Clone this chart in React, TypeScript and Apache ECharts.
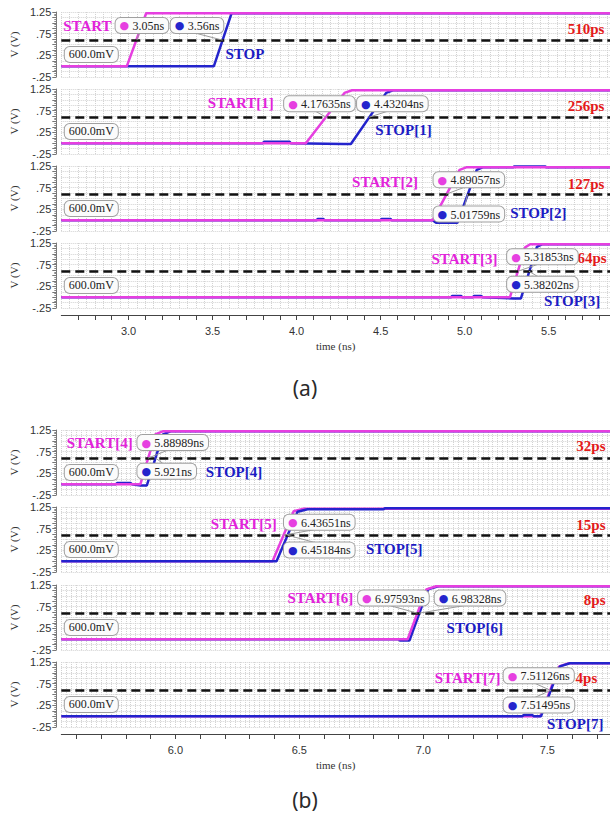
import React, { useEffect, useRef } from 'react';
import * as echarts from 'echarts';

// ---------------- data ----------------
const xTicksA = [3.0, 3.5, 4.0, 4.5, 5.0, 5.5];
const xTicksB = [6.0, 6.5, 7.0, 7.5];
const xMinorTicksA = [2.7, 2.8, 2.9, 3.0, 3.1, 3.2, 3.3, 3.4, 3.5, 3.6, 3.7, 3.8, 3.9, 4.0, 4.1, 4.2, 4.3, 4.4, 4.5, 4.6, 4.7, 4.8, 4.9, 5.0, 5.1, 5.2, 5.3, 5.4, 5.5, 5.6, 5.7, 5.8];
const xMinorTicksB = [5.6, 5.7, 5.8, 5.9, 6.0, 6.1, 6.2, 6.3, 6.4, 6.5, 6.6, 6.7, 6.8, 6.9, 7.0, 7.1, 7.2, 7.3, 7.4, 7.5, 7.6, 7.7];
const yTickLabels = [-0.25, 0.25, 0.75, 1.25];
const thresholdV = 0.6;
const thresholdText = '600.0mV';

// waveforms: [time (ns), voltage (V)]
const startA0 = [[2.6, 0], [2.99, 0], [3.105, 1.22], [5.865, 1.22]];
const stopA0 = [[2.6, 0], [3.508, 0], [3.613, 1.22], [5.865, 1.22]];
const startA1 = [[2.6, 0], [4.055, 0], [4.285, 1.16], [4.33, 1.22], [5.865, 1.22]];
const stopA1 = [[2.6, 0], [3.8, 0], [3.805, 0.03], [3.96, 0.03], [3.965, 0], [4.28, -0.02], [4.323, -0.02], [4.533, 1.16], [4.573, 1.22], [5.865, 1.22]];
const startA2 = [[2.6, 0], [4.81, 0], [4.97, 1.16], [5.01, 1.22], [5.865, 1.22]];
const stopA2 = [[2.6, 0], [4.12, 0], [4.125, 0.025], [4.16, 0.025], [4.165, 0], [4.5, 0], [4.505, 0.025], [4.56, 0.025], [4.565, 0], [4.81, 0], [4.83, -0.06], [4.957, -0.06], [5.072, 1.16], [5.107, 1.22], [5.29, 1.22], [5.295, 1.24], [5.48, 1.24], [5.485, 1.22], [5.865, 1.22]];
const startA3 = [[2.6, 0], [5.27, 0], [5.36, 1.15], [5.39, 1.22], [5.865, 1.22]];
const stopA3 = [[2.6, 0], [4.92, 0], [4.925, 0.025], [4.98, 0.025], [4.985, 0], [5.05, 0], [5.055, 0.025], [5.1, 0.025], [5.105, 0], [5.29, -0.03], [5.335, -0.03], [5.43, 1.16], [5.46, 1.22], [5.865, 1.22]];
const startB0 = [[5.54, 0], [5.859, 0], [5.919, 1.15], [5.949, 1.22], [7.753, 1.22]];
const stopB0 = [[5.54, 0], [5.76, 0], [5.765, 0.025], [5.82, 0.025], [5.825, 0], [5.86, -0.03], [5.885, -0.03], [5.95, 1.15], [5.98, 1.22], [7.753, 1.22]];
const startB1 = [[5.54, 0], [6.392, 0], [6.477, 1.15], [6.517, 1.21], [7.753, 1.21]];
const stopB1 = [[5.54, 0], [6.408, 0], [6.493, 1.14], [6.533, 1.2], [6.84, 1.2], [6.845, 1.22], [7.753, 1.22]];
const startB2 = [[5.54, 0], [6.937, 0], [7.012, 1.15], [7.052, 1.22], [7.753, 1.22]];
const stopB2 = [[5.54, 0], [6.9, 0], [6.905, -0.03], [6.944, -0.03], [7.019, 1.15], [7.06, 1.22], [7.753, 1.22]];
const startB3 = [[5.54, 0], [7.472, 0], [7.548, 1.15], [7.588, 1.22], [7.753, 1.22]];
const stopB3 = [[5.54, 0], [7.4, 0], [7.405, 0.025], [7.44, 0.025], [7.445, 0], [7.475, 0], [7.551, 1.15], [7.591, 1.22], [7.753, 1.22]];

const startNames = ['START', 'START[1]', 'START[2]', 'START[3]', 'START[4]', 'START[5]', 'START[6]', 'START[7]'];
const stopNames = ['STOP', 'STOP[1]', 'STOP[2]', 'STOP[3]', 'STOP[4]', 'STOP[5]', 'STOP[6]', 'STOP[7]'];
const startCross = [3.05, 4.17635, 4.89057, 5.31853, 5.88989, 6.43651, 6.97593, 7.51126];
const stopCross = [3.56, 4.43204, 5.01759, 5.38202, 5.921, 6.45184, 6.98328, 7.51495];
const startCrossText = ['3.05ns', '4.17635ns', '4.89057ns', '5.31853ns', '5.88989ns', '6.43651ns', '6.97593ns', '7.51126ns'];
const stopCrossText = ['3.56ns', '4.43204ns', '5.01759ns', '5.38202ns', '5.921ns', '6.45184ns', '6.98328ns', '7.51495ns'];
const deltaText = ['510ps', '256ps', '127ps', '64ps', '32ps', '15ps', '8ps', '4ps'];

const startWaves = [startA0, startA1, startA2, startA3, startB0, startB1, startB2, startB3];
const stopWaves = [stopA0, stopA1, stopA2, stopA3, stopB0, stopB1, stopB2, stopB3];

// ---------------- layout / style ----------------
const PINK = '#e63fe0';
const PINK_TXT = '#e223da';
const BLUE = '#2424cc';
const BLUE_TXT = '#1c1cc4';
const RED = '#e41a1a';
const GRIDC = '#d2d2d2';

const panels = [
  { min: 2.6, max: 5.865, fine: 0.05, tops: [12, 89, 166, 243], ticks: xMinorTicksA, labels: xTicksA, tag: '(a)', tagY: 388 },
  { min: 5.54, max: 7.753, fine: 0.02, tops: [430, 507, 585, 662], ticks: xMinorTicksB, labels: xTicksB, tag: '(b)', tagY: 800 },
];

// annotation anchors in data units [t, V]
const annot = [
  { st: [2.608, 0.93], sb: [2.92, 0.94], pb: [3.248, 0.94], pt: [3.574, 0.27], d: [5.835, 0.85], dAlign: 'right', stopTop: false },
  { st: [3.469, 0.92], sb: [3.923, 0.91], pb: [4.357, 0.91], pt: [4.465, 0.3], d: [5.835, 0.85], dAlign: 'right', stopTop: false },
  { st: [4.327, 0.88], sb: [4.812, 0.93], pb: [4.812, 0.14], pt: [5.268, 0.16], d: [5.835, 0.84], dAlign: 'right', stopTop: false },
  { st: [4.8, 0.88], sb: [5.25, 0.93], pb: [5.25, 0.3], pt: [5.469, -0.08], d: [5.668, 0.9], dAlign: 'left', stopTop: false },
  { st: [5.56, 0.95], sb: [5.845, 0.96], pb: [5.845, 0.3], pt: [6.121, 0.28], d: [7.737, 0.88], dAlign: 'right', stopTop: false },
  { st: [6.141, 0.86], sb: [6.436, 0.9], pb: [6.436, 0.26], pt: [6.767, 0.28], d: [7.737, 0.84], dAlign: 'right', stopTop: true },
  { st: [6.45, 0.95], sb: [6.735, 0.95], pb: [7.044, 0.95], pt: [7.092, 0.26], d: [7.737, 0.9], dAlign: 'right', stopTop: false },
  { st: [7.044, 0.88], sb: [7.322, 0.93], pb: [7.322, 0.26], pt: [7.497, -0.18], d: [7.612, 0.88], dAlign: 'left', stopTop: true },
];

const fmtY = (v: number) => {
  const hit = yTickLabels.find((l) => Math.abs(l - v) < 1e-6);
  if (hit === undefined) return '';
  return hit.toFixed(2).replace(/^(-?)0\./, '$1.');
};

const boxLabel = (color: string, text: string) => ({
  show: true,
  position: 'right',
  distance: 0,
  formatter: `{d|●} {v|${text}}`,
  backgroundColor: '#fbfbfb',
  borderColor: '#a0a0a0',
  borderWidth: 1,
  borderRadius: 5,
  padding: [2, 4, 1, 4],
  rich: {
    d: { color, fontSize: 11, fontFamily: 'DejaVu Sans' },
    v: { color: '#222', fontSize: 12, fontFamily: 'Liberation Serif' },
  },
});

const bigText = (color: string, text: string, pos = 'right') => ({
  show: true,
  position: pos,
  distance: 0,
  formatter: text,
  color,
  fontSize: 15,
  fontWeight: 'bold',
  fontFamily: 'Liberation Serif',
});

function buildOption() {
  const grid: any[] = [];
  const xAxis: any[] = [];
  const yAxis: any[] = [];
  const series: any[] = [];

  for (let i = 0; i < 8; i++) {
    const p = panels[i < 4 ? 0 : 1];
    const row = i % 4;
    const a = annot[i];
    const pxPerNs = 552 / (p.max - p.min);
    grid.push({ left: 58, width: 552, top: p.tops[row], height: 65, containLabel: false });
    xAxis.push({
      type: 'value', gridIndex: i, min: p.min, max: p.max, interval: p.fine,
      axisLine: { show: false }, axisTick: { show: false }, axisLabel: { show: false },
      splitLine: { show: true, lineStyle: { color: GRIDC, type: 'dotted', width: 1 } },
    });
    yAxis.push({
      type: 'value', gridIndex: i, min: -0.25, max: 1.25, interval: 0.125, offset: 5,
      axisLine: { show: true, lineStyle: { color: '#777' } },
      axisTick: { show: true, length: 4, lineStyle: { color: '#777' } },
      minorTick: { show: true, splitNumber: 3, length: 2, lineStyle: { color: '#888' } },
      axisLabel: { formatter: fmtY, fontSize: 11, color: '#333', margin: 5, fontFamily: 'Liberation Sans' },
      splitLine: { show: true, lineStyle: { color: GRIDC, type: 'dotted', width: 1 } },
      name: 'V (V)', nameLocation: 'middle', nameGap: 36, nameRotate: 90,
      nameTextStyle: { fontSize: 11, fontFamily: 'Liberation Serif', color: '#333' },
    });

    const boxW = (t: string) => 20 + t.length * 5.6;
    const leader = (box: number[], text: string, cross: number) => {
      const sx = box[0] + (boxW(text) * 0.45) / pxPerNs;
      const sy = box[1] > thresholdV ? box[1] - 0.17 : box[1] + 0.17;
      return [
        { coord: [sx, sy], lineStyle: { color: '#9a9a9a', width: 1, type: 'solid' } },
        { coord: [cross, thresholdV] },
      ];
    };

    const startSeries: any = {
      type: 'line', name: startNames[i], xAxisIndex: i, yAxisIndex: i, data: startWaves[i],
      showSymbol: false, symbol: 'none', lineStyle: { color: PINK, width: 2.5 }, itemStyle: { color: PINK },
      silent: true,
    };
    const stopSeries: any = {
      type: 'line', name: stopNames[i], xAxisIndex: i, yAxisIndex: i, data: stopWaves[i],
      showSymbol: false, symbol: 'none', lineStyle: { color: BLUE, width: 2.5 }, itemStyle: { color: BLUE },
      silent: true,
    };
    const top = a.stopTop ? stopSeries : startSeries;
    top.markLine = {
      silent: true, symbol: ['none', 'none'], label: { show: false }, animation: false,
      data: [
        { yAxis: thresholdV, lineStyle: { color: '#111', type: [9, 5], width: 2.5 } },
        leader(a.sb, startCrossText[i], startCross[i]),
        leader(a.pb, stopCrossText[i], stopCross[i]),
      ],
    };
    const mvX = p.min + 3 / pxPerNs;
    top.markPoint = {
      silent: true, symbol: 'rect', symbolSize: 1, itemStyle: { color: 'rgba(0,0,0,0)' }, animation: false,
      data: [
        { coord: a.st, label: bigText(PINK_TXT, startNames[i]) },
        { coord: a.pt, label: bigText(BLUE_TXT, stopNames[i]) },
        { coord: a.d, label: bigText(RED, deltaText[i], a.dAlign === 'right' ? 'left' : 'right') },
        { coord: a.sb, label: boxLabel(PINK, startCrossText[i]) },
        { coord: a.pb, label: boxLabel(BLUE, stopCrossText[i]) },
        {
          coord: [mvX, 0.27],
          label: {
            show: true, position: 'right', distance: 0, formatter: thresholdText,
            backgroundColor: '#fbfbfb', borderColor: '#a0a0a0', borderWidth: 1, borderRadius: 5,
            padding: [2, 4, 1, 4], color: '#222', fontSize: 12, fontFamily: 'Liberation Serif',
          },
        },
      ],
    };
    if (a.stopTop) series.push(startSeries, stopSeries);
    else series.push(stopSeries, startSeries);
  }

  // bottom time axes of each panel
  panels.forEach((p, k) => {
    xAxis.push({
      type: 'value', gridIndex: k === 0 ? 3 : 7, min: p.min, max: p.max, position: 'bottom', offset: 7,
      axisLine: { show: true, lineStyle: { color: '#444', width: 1 } },
      axisTick: { show: true, length: 5, customValues: p.ticks, lineStyle: { color: '#444' } },
      axisLabel: {
        show: true, customValues: p.labels, formatter: (v: number) => v.toFixed(1),
        fontSize: 11, color: '#333', margin: 10, fontFamily: 'Liberation Sans',
      },
      splitLine: { show: false },
      name: 'time (ns)', nameLocation: 'middle', nameGap: 25,
      nameTextStyle: { fontSize: 11, fontFamily: 'Liberation Serif', color: '#333' },
    });
  });

  const graphic = panels.map((p) => ({
    type: 'text', x: 305, y: p.tagY,
    style: { text: p.tag, fontSize: 21, fontFamily: 'Noto Sans', fill: '#2a2a2a', align: 'center', verticalAlign: 'middle' },
  }));

  return { animation: false, backgroundColor: '#ffffff', grid, xAxis, yAxis, series, graphic };
}

export default function App() {
  const ref = useRef<HTMLDivElement>(null);
  useEffect(() => {
    document.body.style.margin = '0';
    const chart = echarts.init(ref.current!, null, { renderer: 'svg' });
    chart.setOption(buildOption() as any);
    return () => chart.dispose();
  }, []);
  return <div ref={ref} style={{ width: 610, height: 816 }} />;
}
